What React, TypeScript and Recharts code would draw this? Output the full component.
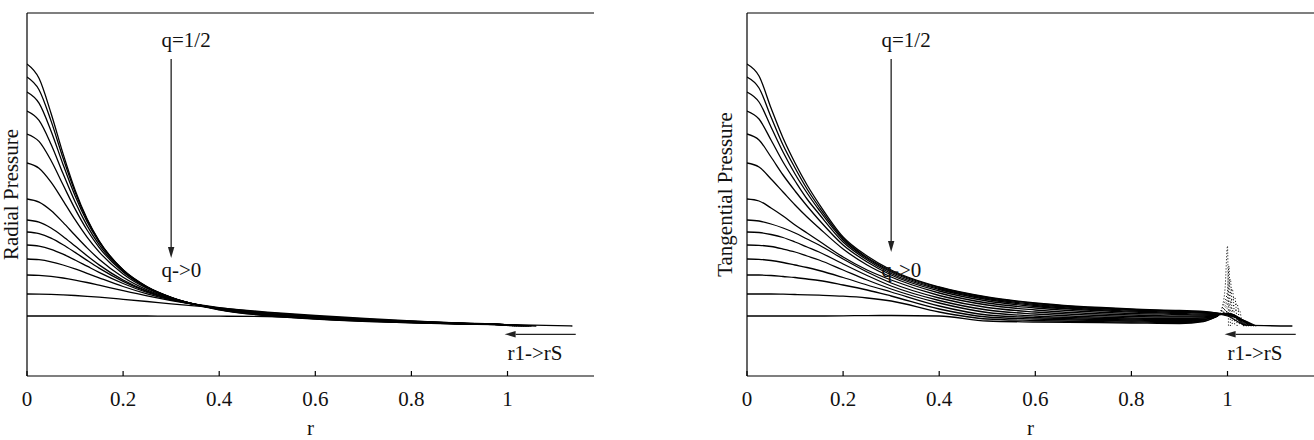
import React from 'react';
import { LineChart, Line, XAxis, YAxis, ReferenceLine, ReferenceDot } from 'recharts';

// radius samples shared by every curve (before the surface tail)
const R_GRID = [0, 0.025, 0.05, 0.075, 0.1, 0.125, 0.15, 0.2, 0.25, 0.3, 0.4, 0.5, 0.6, 0.8, 0.9];
const X_TICKS = [0, 0.2, 0.4, 0.6, 0.8, 1];
const X_DOMAIN = [0, 1.18];
const P_DOMAIN = [-50, 313];

// Radial pressure, curves from q=1/2 (top) down to q->0 (bottom)
const RADIAL_1 = [262, 247.7, 212.8, 172.4, 136.1, 107.2, 85.1, 55.8, 38.7, 28.1, 16.2, 10.2, 7.0, 3.2, 2.0];
const RADIAL_2 = [249, 236.3, 205.1, 168.0, 134.1, 106.4, 85.0, 56.2, 39.2, 28.6, 16.5, 10.5, 7.2, 3.3, 2.1];
const RADIAL_3 = [234, 222.9, 195.1, 161.6, 130.2, 104.2, 83.8, 55.9, 39.1, 28.6, 16.7, 10.8, 7.4, 3.5, 2.2];
const RADIAL_4 = [215, 205.6, 181.8, 152.4, 124.2, 100.4, 81.3, 54.8, 38.6, 28.4, 16.8, 11.0, 7.6, 3.6, 2.3];
const RADIAL_5 = [192, 184.6, 165.5, 141.2, 117.1, 96.0, 78.7, 53.9, 38.4, 28.4, 17.0, 11.2, 7.8, 3.7, 2.4];
const RADIAL_6 = [163, 157.7, 143.8, 125.4, 106.3, 88.9, 74.1, 52.1, 37.6, 28.1, 17.1, 11.4, 8.0, 3.9, 2.4];
const RADIAL_7 = [127, 123.9, 115.5, 103.6, 90.7, 78.1, 66.8, 48.8, 36.2, 27.6, 17.2, 11.6, 8.2, 4.0, 2.5];
const RADIAL_8 = [106, 103.9, 98.0, 89.6, 79.9, 70.2, 61.1, 46.0, 34.9, 26.9, 17.3, 11.8, 8.4, 4.1, 2.5];
const RADIAL_9 = [94, 92.4, 87.9, 81.3, 73.6, 65.6, 57.9, 44.6, 34.4, 26.9, 17.5, 12.1, 8.7, 4.2, 2.6];
const RADIAL_10 = [81, 79.9, 76.7, 71.8, 66.0, 59.8, 53.6, 42.5, 33.5, 26.6, 17.7, 12.4, 9.0, 4.4, 2.7];
const RADIAL_11 = [67, 66.3, 64.2, 61.0, 57.1, 52.7, 48.2, 39.5, 32.1, 26.1, 17.9, 12.8, 9.4, 4.6, 2.8];
const RADIAL_12 = [51, 50.6, 49.6, 48.0, 45.9, 43.5, 40.8, 35.3, 30.1, 25.5, 18.4, 13.3, 9.9, 4.8, 2.9];
const RADIAL_13 = [32, 31.9, 31.6, 31.1, 30.5, 29.7, 28.8, 26.7, 24.5, 22.2, 18.0, 13.9, 10.5, 5.0, 3.0];
const RADIAL_14 = [10, 10, 10, 10, 10, 10, 10, 10, 10, 9.9, 9.8, 9.5, 8.5, 4.5, 2.8];

const RADIAL_TAILS = [
  [[1.0, 1.3], [1.135, 0]],
  [[1.0, 1.2], [1.06, 0]],
  [[1.0, 1.2], [1.05, 0]],
  [[1.0, 1.2], [1.045, 0]],
  [[1.0, 1.2], [1.04, 0]],
  [[1.0, 1.2], [1.035, 0]],
  [[1.0, 1.2], [1.03, 0]],
  [[1.0, 1.1], [1.025, 0]],
  [[1.0, 1.1], [1.02, 0]],
  [[1.0, 1.1], [1.016, 0]],
  [[1.0, 1.0], [1.012, 0]],
  [[1.0, 1.0], [1.008, 0]],
  [[1.0, 1.0], [1.005, 0]],
  [[1.0, 0.9], [1.002, 0]],
];

// Tangential pressure
const TANG_1 = [262, 250, 218, 188, 163, 141, 122, 89, 70, 56, 39, 29, 23, 17, 15.5];
const TANG_2 = [249, 238, 209, 181, 158, 137, 119, 87.5, 68.5, 55, 38.5, 28.5, 22.5, 16.5, 15];
const TANG_3 = [234, 224, 199, 174, 152, 133, 116, 86, 67.5, 54, 37.5, 27.5, 21.5, 16, 14.5];
const TANG_4 = [215, 207, 186, 164, 145, 127, 112, 84, 66, 52.5, 36.5, 26.5, 20.5, 15, 13.5];
const TANG_5 = [192, 186, 169, 151, 135, 120, 106, 81, 64, 51, 35, 25, 19.5, 14, 12.5];
const TANG_6 = [163, 159, 147, 134, 121, 109, 98, 77, 61, 49, 33, 23, 18, 12.5, 11.5];
const TANG_7 = [127, 125, 118, 110, 101, 93, 85, 69, 56, 46, 30.5, 21, 16, 11, 10];
const TANG_8 = [106, 105, 102, 98, 93, 87, 81, 67, 54, 43, 28, 18.5, 14, 9.5, 9];
const TANG_9 = [94, 93.5, 91.5, 88.5, 84, 79, 74, 62, 50.5, 40, 25.5, 16, 12, 8, 7.5];
const TANG_10 = [81, 80.7, 79.5, 77, 74, 70, 66, 56, 46, 37, 23, 13.5, 10, 7, 6.5];
const TANG_11 = [67, 66.7, 65.5, 63.5, 61, 58.5, 55.5, 48.5, 41, 34, 20, 11, 8.5, 6, 5.5];
const TANG_12 = [51, 51, 50.5, 49.5, 48.5, 47, 45.5, 41, 36, 30, 17, 9, 7, 5, 4.5];
const TANG_13 = [32, 32, 32, 31.8, 31.5, 31.2, 30.8, 29.8, 28, 25, 14, 7, 5.5, 4, 3.5];
const TANG_14 = [10, 10, 10, 10, 10, 10, 10, 10.2, 10.4, 10.5, 10, 5, 4, 3, 2.5];

// surface tails: [r, p] points beyond r=0.9 (spikes near r=1 for the low-q curves)
const TANG_TAILS = [
  [[0.95, 14.5], [0.98, 12.5], [1.0, 10], [1.04, 0.8], [1.135, 0]],
  [[0.95, 14], [0.98, 12.5], [1.0, 11], [1.06, 0]],
  [[0.95, 13.5], [0.98, 12.5], [1.0, 11.5], [1.055, 0]],
  [[0.95, 13], [0.98, 12.5], [1.0, 12], [1.05, 0]],
  [[0.95, 12], [0.98, 12], [1.0, 12.5], [1.045, 0]],
  [[0.95, 11], [0.98, 11.5], [1.0, 12.5], [1.04, 0]],
  [[0.95, 10], [0.98, 11], [1.0, 12.5], [1.035, 0]],
  [[0.95, 9], [0.98, 11], [1.0, 14.5], [1.025, 16], [1.03, 0]],
  [[0.95, 8], [0.98, 10.5], [1.0, 15], [1.02, 22], [1.025, 0]],
  [[0.95, 7], [0.98, 10], [0.99, 13], [1.0, 18], [1.015, 29], [1.02, 0]],
  [[0.95, 6.5], [0.98, 10], [0.99, 14], [1.0, 22], [1.01, 37], [1.015, 0]],
  [[0.95, 6], [0.98, 10], [0.99, 16], [1.0, 28], [1.006, 47], [1.01, 0]],
  [[0.95, 5], [0.98, 10], [0.99, 19], [1.0, 35], [1.003, 60], [1.006, 0]],
  [[0.95, 4.5], [0.98, 10], [0.99, 21], [0.995, 38], [1.0, 80], [1.002, 0]],
];
// which tangential curves have a (sparsely sampled, dotted) surface spike
const TANG_SPIKING = [false, false, false, false, false, false, false, true, true, true, true, true, true, true];
const SPIKE_FROM = 0.98;

const RADIAL = [RADIAL_1, RADIAL_2, RADIAL_3, RADIAL_4, RADIAL_5, RADIAL_6, RADIAL_7,
  RADIAL_8, RADIAL_9, RADIAL_10, RADIAL_11, RADIAL_12, RADIAL_13, RADIAL_14];
const TANGENTIAL = [TANG_1, TANG_2, TANG_3, TANG_4, TANG_5, TANG_6, TANG_7,
  TANG_8, TANG_9, TANG_10, TANG_11, TANG_12, TANG_13, TANG_14];
const RADIAL_SPIKING = RADIAL.map(() => false);

const ANNOTATIONS = [
  { text: 'q=1/2', r: 0.28, p: 279.5 },
  { text: 'q->0', r: 0.28, p: 49.5 },
  { text: 'r1->rS', r: 1.0, p: -34 },
];
const ARROW_DOWN = { r: 0.3, from: 267 };
const ARROW_LEFT = { p: -8.3, from: 1.142, to: 0.994 };

const FONT = '"Liberation Serif", "Times New Roman", serif';
const FS = 21;
const INK = '#111';

function toPoints(rs: number[], ps: number[]) {
  return rs.map((r, i) => ({ r, p: ps[i] }));
}

const Arrow = (props: any) => {
  const { x1, y1, x2, y2 } = props;
  const dx = x2 - x1;
  const dy = y2 - y1;
  const len = Math.hypot(dx, dy) || 1;
  const ux = dx / len;
  const uy = dy / len;
  const hl = 11;
  const hw = 3.2;
  const bx = x2 - ux * hl;
  const by = y2 - uy * hl;
  const nx = -uy;
  const ny = ux;
  return (
    <g>
      <line x1={x1} y1={y1} x2={bx} y2={by} stroke="#222" strokeWidth={1.3} />
      <polygon points={`${x2},${y2} ${bx + nx * hw},${by + ny * hw} ${bx - nx * hw},${by - ny * hw}`} fill="#222" />
    </g>
  );
};

function Panel({ curves, tails, spiking, yLabel, labelOffset, width, yAxisWidth, marginRight, arrowTo }: any) {
  const lines: any[] = [];
  curves.forEach((c: number[], i: number) => {
    const tail = tails[i] as number[][];
    const main = toPoints(R_GRID, c);
    const spike: { r: number; p: number }[] = [];
    tail.forEach(([r, p]) => {
      if (spiking[i] && r > SPIKE_FROM) spike.push({ r, p });
      else main.push({ r, p });
    });
    lines.push(
      <Line key={`m${i}`} data={main} dataKey="p" type="monotone" stroke="#000" strokeWidth={1.3}
        dot={false} activeDot={false} isAnimationActive={false} />
    );
    if (spike.length) {
      const start = main[main.length - 1];
      lines.push(
        <Line key={`s${i}`} data={[start, ...spike]} dataKey="p" type="monotone" stroke="#000"
          strokeWidth={1} strokeDasharray="1 2" dot={false} activeDot={false} isAnimationActive={false} />
      );
    }
  });
  return (
    <LineChart width={width} height={440} margin={{ top: 12, right: marginRight, bottom: 24, left: 0 }}>
      <XAxis
        dataKey="r"
        type="number"
        domain={X_DOMAIN}
        ticks={X_TICKS}
        allowDataOverflow
        height={40}
        tickSize={-5}
        tickMargin={20}
        interval={0}
        tickFormatter={(v: number) => String(v)}
        tick={{ fontFamily: FONT, fontSize: FS, fill: INK }}
        axisLine={{ stroke: '#000', strokeWidth: 1.2 }}
        tickLine={{ stroke: '#000', strokeWidth: 1.2 }}
        label={{ value: 'r', position: 'bottom', offset: 4, fontFamily: FONT, fontSize: FS, fill: INK }}
      />
      <XAxis
        xAxisId="top"
        orientation="top"
        dataKey="r"
        type="number"
        domain={X_DOMAIN}
        ticks={X_TICKS}
        allowDataOverflow
        height={1}
        tickSize={-5}
        interval={0}
        tick={false}
        axisLine={{ stroke: '#000', strokeWidth: 1.2 }}
        tickLine={{ stroke: '#000', strokeWidth: 1.2 }}
      />
      <YAxis
        type="number"
        domain={P_DOMAIN}
        allowDataOverflow
        width={yAxisWidth}
        tick={false}
        tickLine={false}
        axisLine={{ stroke: '#000', strokeWidth: 1.2 }}
        label={{
          value: yLabel,
          angle: -90,
          position: 'insideLeft',
          offset: labelOffset,
          fontFamily: FONT,
          fontSize: FS,
          fill: INK,
          style: { textAnchor: 'middle' },
        }}
      />
      <YAxis
        yAxisId="right"
        orientation="right"
        type="number"
        domain={P_DOMAIN}
        width={0}
        tick={false}
        tickLine={false}
        axisLine={{ stroke: '#000', strokeWidth: 1.2 }}
      />
      {lines}
      <ReferenceLine
        segment={[{ x: ARROW_DOWN.r, y: ARROW_DOWN.from }, { x: ARROW_DOWN.r, y: arrowTo }]}
        ifOverflow="visible"
        shape={Arrow}
      />
      <ReferenceLine
        segment={[{ x: ARROW_LEFT.from, y: ARROW_LEFT.p }, { x: ARROW_LEFT.to, y: ARROW_LEFT.p }]}
        ifOverflow="visible"
        shape={Arrow}
      />
      {ANNOTATIONS.map((a) => (
        <ReferenceDot
          key={a.text}
          x={a.r}
          y={a.p}
          r={0}
          ifOverflow="visible"
          shape={(p: any) => (
            <text x={p.cx} y={p.cy} fontFamily={FONT} fontSize={FS} fill={INK}>
              {a.text}
            </text>
          )}
        />
      ))}
    </LineChart>
  );
}

export default function App() {
  return (
    <div style={{ position: 'absolute', left: 0, top: 0, width: 1314, height: 440, background: '#fff', overflow: 'hidden' }}>
      <div style={{ position: 'absolute', left: 0, top: 0 }}>
        <Panel curves={RADIAL} tails={RADIAL_TAILS} spiking={RADIAL_SPIKING} yLabel="Radial Pressure"
          labelOffset={11} width={620} yAxisWidth={27} marginRight={26} arrowTo={68} />
      </div>
      <div style={{ position: 'absolute', left: 690, top: 0 }}>
        <Panel curves={TANGENTIAL} tails={TANG_TAILS} spiking={TANG_SPIKING} yLabel="Tangential Pressure"
          labelOffset={35} width={624} yAxisWidth={57} marginRight={0} arrowTo={74} />
      </div>
    </div>
  );
}
